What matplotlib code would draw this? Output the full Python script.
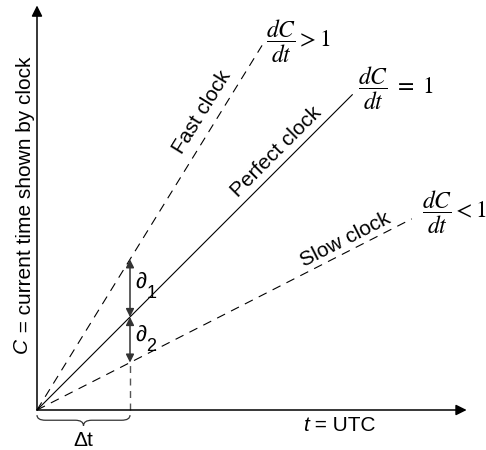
import numpy as np
import matplotlib
matplotlib.use('Agg')
import matplotlib.pyplot as plt
from matplotlib.path import Path
from matplotlib.patches import PathPatch

plt.rcParams['font.family'] = ['Liberation Sans', 'DejaVu Sans']
plt.rcParams['mathtext.fontset'] = 'stix'

# clock rates dC/dt and where each line stops (in units of delta t)
clock_names = ['Fast clock', 'Perfect clock', 'Slow clock']
clock_rates = [1.62, 1.0, 0.51]
line_ends = [2.42, 3.39, 4.03]
rate_labels = [r'$\dfrac{dC}{dt} > 1$', r'$\dfrac{dC}{dt}\ =\ 1$', r'$\dfrac{dC}{dt} < 1$']
delta_t = 1.0
x_axis_end = 4.62
y_axis_end = 4.35

fig = plt.figure(figsize=(4.86, 4.5), dpi=100)
ax = fig.add_axes([0, 0, 1, 1])
ax.set_xlim(-37 / 93, (486 - 37) / 93)
ax.set_ylim(-40 / 93, 410 / 93)
ax.axis('off')

# axes with arrow heads
ax.annotate('', xy=(x_axis_end, 0), xytext=(0, 0),
            arrowprops=dict(arrowstyle='-|>', color='k', lw=1.1,
                            mutation_scale=16, shrinkA=0, shrinkB=0))
ax.annotate('', xy=(0, y_axis_end), xytext=(0, 0),
            arrowprops=dict(arrowstyle='-|>', color='k', lw=1.1,
                            mutation_scale=16, shrinkA=0, shrinkB=0))

# clock lines
for rate, end in zip(clock_rates, line_ends):
    ts = np.array([0, end])
    style = '-' if rate == 1.0 else (0, (8, 6))
    ax.plot(ts, rate * ts, color='k', lw=0.8, linestyle=style)

# line labels, rotated along each line
label_pos = [(1.774, 3.204), (2.570, 2.774), (3.312, 1.828)]
for name, rate, (lx, ly) in zip(clock_names, clock_rates, label_pos):
    p0 = ax.transData.transform((0, 0))
    p1 = ax.transData.transform((1, rate))
    ang = np.degrees(np.arctan2(p1[1] - p0[1], p1[0] - p0[0]))
    ax.text(lx, ly, name, fontsize=15, rotation=ang, rotation_mode='anchor',
            ha='center', va='center')

frac_pos = [(2.462, 3.968), (3.452, 3.462), (4.14, 2.129)]
for lab, (fx, fy) in zip(rate_labels, frac_pos):
    ax.text(fx, fy, lab, fontsize=17, ha='left', va='center')

# offsets at delta t
ax.plot([delta_t, delta_t], [0, clock_rates[2] * delta_t], color='#555555',
        lw=1.0, linestyle=(0, (5, 4)))
for top, bot in [(clock_rates[0], clock_rates[1]), (clock_rates[1], clock_rates[2])]:
    ax.annotate('', xy=(delta_t, bot * delta_t), xytext=(delta_t, top * delta_t),
                arrowprops=dict(arrowstyle='<|-|>', color='#333333', lw=1.1,
                                mutation_scale=12, shrinkA=0, shrinkB=0))

for sub, (dx, dy) in zip(['1', '2'], [(1.054, 1.312), (1.054, 0.742)]):
    d = ax.text(dx, dy, '∂', fontsize=16, ha='left', va='baseline')
    ax.annotate(sub, xy=(1, 0), xycoords=d, xytext=(0.3, -3.5),
                textcoords='offset points', fontsize=13, ha='left', va='baseline')

# brace under delta t
y0, y1, y2 = -0.055, -0.11, -0.17
verts = [(0, y0), (0, y1), (0.09, y1),
         (0.41, y1),
         (0.5, y1), (0.5, y2),
         (0.5, y1), (0.59, y1),
         (0.91, y1),
         (1.0, y1), (1.0, y0)]
codes = [Path.MOVETO, Path.CURVE3, Path.CURVE3,
         Path.LINETO,
         Path.CURVE3, Path.CURVE3,
         Path.CURVE3, Path.CURVE3,
         Path.LINETO,
         Path.CURVE3, Path.CURVE3]
ax.add_patch(PathPatch(Path(verts, codes), facecolor='none', edgecolor='#333333', lw=0.9))
ax.text(0.5, -0.385, 'Δt', fontsize=15, ha='center', va='baseline')

# axis titles
t_txt = ax.text(2.860, -0.23, 't', fontsize=15, fontstyle='italic',
                ha='left', va='baseline')
ax.annotate(' = UTC', xy=(1, 0), xycoords=t_txt, fontsize=15,
            ha='left', va='bottom')

c_txt = ax.text(-0.11, 0.61, 'C', fontsize=15, fontstyle='italic', rotation=90,
                rotation_mode='anchor', ha='left', va='baseline')
ax.annotate(' = current time shown by clock', xy=(1, 1), xycoords=c_txt,
            fontsize=15, rotation=90, rotation_mode='anchor',
            ha='left', va='baseline')

fig.savefig('out.png', dpi=100, facecolor='white')
